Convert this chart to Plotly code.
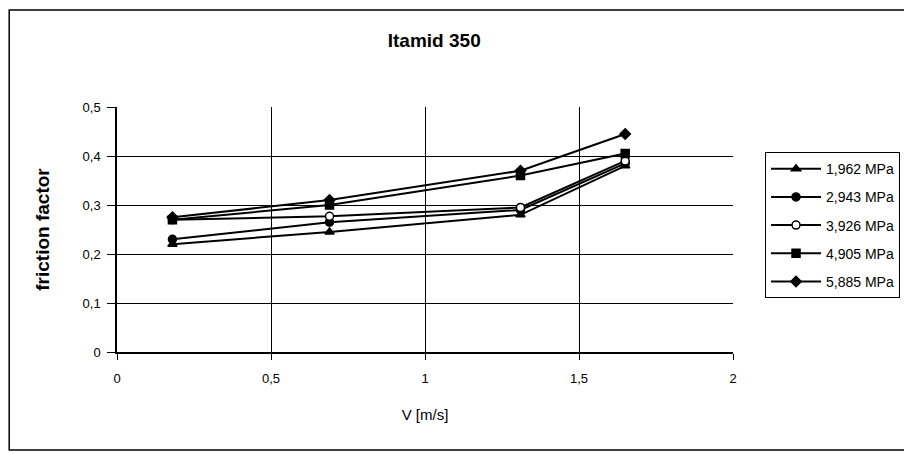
import plotly.graph_objects as go

speed = [0.18, 0.69, 1.31, 1.65]
series_names = ["1,962 MPa", "2,943 MPa", "3,926 MPa", "4,905 MPa", "5,885 MPa"]
f_1962 = [0.220, 0.245, 0.280, 0.380]
f_2943 = [0.230, 0.265, 0.290, 0.385]
f_3926 = [0.270, 0.277, 0.295, 0.390]
f_4905 = [0.270, 0.300, 0.360, 0.405]
f_5885 = [0.275, 0.310, 0.370, 0.445]
values = [f_1962, f_2943, f_3926, f_4905, f_5885]
symbols = ["triangle-up", "circle", "circle", "square", "diamond"]
fills = ["black", "black", "white", "black", "black"]

FONT = "Liberation Sans Narrow, Arial Narrow, Liberation Sans, Arial, sans-serif"

fig = go.Figure()
for name, ys, sym, fill in zip(series_names, values, symbols, fills):
    fig.add_trace(go.Scatter(
        x=speed, y=ys, name=name, mode="lines+markers",
        legendgroup=name,
        line=dict(color="black", width=2),
        marker=dict(symbol=sym, size=8, color=fill,
                    line=dict(color="black", width=1.5)),
    ))

fig.update_layout(
    width=904, height=446,
    paper_bgcolor="white", plot_bgcolor="white",
    separators=", ",
    margin=dict(l=109, r=179, t=99, b=102),
    font=dict(family=FONT, size=13, color="black"),
    title=dict(text="<b>Itamid 350</b>", x=0.515, xref="paper", xanchor="center",
               y=0.928, yref="container", yanchor="middle",
               font=dict(family=FONT, size=19, color="black")),
    showlegend=True,
    legend=dict(x=1.052, y=0.816, xanchor="left", yanchor="top",
                bordercolor="black", borderwidth=1, bgcolor="white",
                font=dict(family=FONT, size=14, color="black"),
                tracegroupgap=7, itemwidth=50),
    xaxis=dict(range=[0, 2], dtick=0.5, tick0=0, showgrid=True, gridcolor="black", gridwidth=1,
               showline=True, linecolor="black", linewidth=1.5, zeroline=False,
               ticks="outside", ticklen=6, tickcolor="black", ticklabelstandoff=8,
               title=dict(text="V [m/s]", standoff=24, font=dict(family=FONT, size=15))),
    yaxis=dict(range=[0, 0.5], dtick=0.1, tick0=0, showgrid=True, gridcolor="black", gridwidth=1,
               showline=True, linecolor="black", linewidth=1.5, zeroline=False,
               ticks="outside", ticklen=8, tickcolor="black", ticklabelstandoff=4,
               title=dict(text="<b>friction factor</b>", standoff=28, font=dict(family=FONT, size=19))),
    shapes=[dict(type="rect", xref="paper", yref="paper",
                 x0=-0.175, x1=1.287, y0=-0.40, y1=1.396,
                 line=dict(color="black", width=1.5), fillcolor="rgba(0,0,0,0)")],
)

fig.write_html("out.html")
